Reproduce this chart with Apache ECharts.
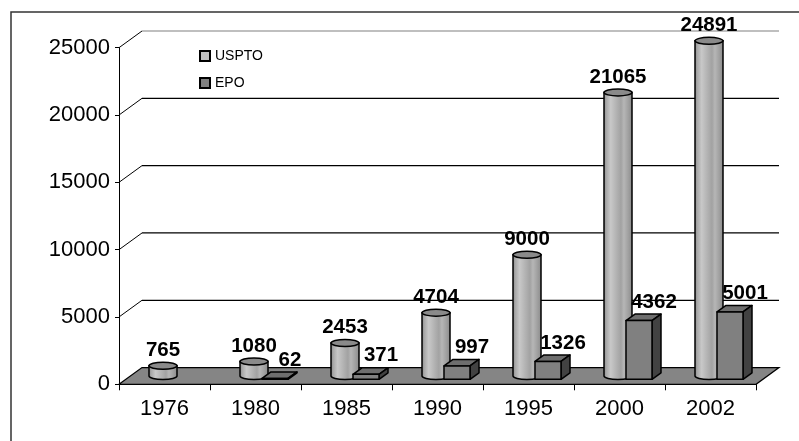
<!DOCTYPE html>
<html><head><meta charset="utf-8">
<script src="https://cdn.jsdelivr.net/npm/echarts@6/dist/echarts.min.js"></script>
<style>html,body{margin:0;padding:0;background:#fff}#c{width:799px;height:441px}</style>
</head><body><div id="c"></div>
<script>
const years = ['1976','1980','1985','1990','1995','2000','2002'];
const uspto = [765, 1080, 2453, 4704, 9000, 21065, 24891];
const epo = [null, 62, 371, 997, 1326, 4362, 5001];
const yTicks = [0, 5000, 10000, 15000, 20000, 25000];
const FONT = '"Liberation Sans", Arial, sans-serif';

const WALL_DX = 23, WALL_DY = 16.7;

const cylGrad = {type:'linear', x:0, y:0, x2:1, y2:0, colorStops:[
  {offset:0, color:'#848484'}, {offset:0.1, color:'#a8a8a8'}, {offset:0.25, color:'#c8c8c8'},
  {offset:0.45, color:'#b2b2b2'}, {offset:0.6, color:'#a2a2a2'}, {offset:0.7, color:'#b6b6b6'},
  {offset:0.85, color:'#a0a0a0'}, {offset:1, color:'#888888'}]};

function renderFrame(params, api){
  const cs = params.coordSys;
  const v = api.value(1);
  const y = api.coord([0, v])[1];
  const xl = cs.x, xr = cs.x + cs.width;
  if (v === 0) {
    return {type:'polygon', shape:{points:[[xl,y],[xl+WALL_DX,y-WALL_DY],[xr+WALL_DX,y-WALL_DY],[xr,y]]},
      style:{fill:'#858585', stroke:'#000', lineWidth:1.2}};
  }
  const col = v === 25000 ? '#808080' : '#000';
  return {type:'group', children:[
    {type:'line', shape:{x1:xl, y1:y, x2:xl+WALL_DX, y2:y-WALL_DY}, style:{stroke:'#000', lineWidth:1}},
    {type:'line', shape:{x1:xl+WALL_DX, y1:y-WALL_DY, x2:xr+WALL_DX, y2:y-WALL_DY}, style:{stroke:col, lineWidth:1.2}}
  ]};
}

function renderCyl(params, api){
  const i = api.value(0), v = api.value(1);
  const p0 = api.coord([i, 0]), p1 = api.coord([i, v]);
  const h = p0[1] - p1[1];
  const cx = p0[0] - 1.5, r = 14, ry = 3.5;
  const by = p0[1] - 8.3, ty = by - h;
  return {type:'group', children:[
    {type:'path', shape:{pathData:'M'+(cx-r)+' '+ty+' L'+(cx-r)+' '+by+' A'+r+' '+ry+' 0 0 0 '+(cx+r)+' '+by+' L'+(cx+r)+' '+ty+' Z'},
      style:{fill:cylGrad, stroke:'#000', lineWidth:1.5}},
    {type:'ellipse', shape:{cx:cx, cy:ty, rx:r, ry:ry}, style:{fill:'#8a8a8a', stroke:'#000', lineWidth:1.5}},
    {type:'text', x:cx, y:ty-ry-1.5, z2:100, style:{text:String(v), fill:'#000', fontSize:20.5, fontWeight:'bold', fontFamily:FONT, align:'center', verticalAlign:'bottom'}}
  ]};
}

function renderBox(params, api){
  const i = api.value(0), v = api.value(1);
  const p0 = api.coord([i, 0]), p1 = api.coord([i, v]);
  const h = p0[1] - p1[1];
  const x1 = p0[0] + 6.5, w = 26, dx = 9, dy = 6.5;
  const yb = p0[1] - 5, yt = yb - h;
  const st = {stroke:'#000', lineWidth:1.5, lineJoin:'round'};
  return {type:'group', children:[
    {type:'polygon', shape:{points:[[x1,yt],[x1+dx,yt-dy],[x1+w+dx,yt-dy],[x1+w,yt]]}, style:Object.assign({fill:'#6e6e6e'}, st)},
    {type:'polygon', shape:{points:[[x1+w,yt],[x1+w+dx,yt-dy],[x1+w+dx,yb-dy],[x1+w,yb]]}, style:Object.assign({fill:'#424242'}, st)},
    {type:'rect', shape:{x:x1, y:yt, width:w, height:h}, style:Object.assign({fill:'#808080'}, st)},
    {type:'text', x:x1+w/2+15, y:yt-dy-1.5, z2:100, style:{text:String(v), fill:'#000', fontSize:20.5, fontWeight:'bold', fontFamily:FONT, align:'center', verticalAlign:'bottom'}}
  ]};
}

const frameData = yTicks.map(v => [0, v]);
const usptoData = uspto.map((v, i) => [i, v]);
const epoData = epo.map((v, i) => [i, v]).filter(d => d[1] != null);

const chart = echarts.init(document.getElementById('c'));
chart.setOption({
  animation: false,
  backgroundColor: '#fff',
  graphic: [{type:'rect', left:8.5, top:9.5, shape:{x:0, y:0, width:900, height:600}, style:{fill:'none', stroke:'#333', lineWidth:1.5}, silent:true, z:-10}],
  grid: {left:119, top:47.7, width:637, height:336.6},
  legend: {orient:'vertical', left:199, top:49, padding:0, itemWidth:10, itemHeight:10, itemGap:13, icon:'rect', selectedMode:false,
    textStyle:{fontSize:14, color:'#000', fontFamily:FONT},
    data:[{name:'USPTO', itemStyle:{color:'#c0c0c0', borderColor:'#000', borderWidth:2}},
          {name:'EPO', itemStyle:{color:'#808080', borderColor:'#000', borderWidth:2}}]},
  xAxis: {type:'category', data:years, boundaryGap:true,
    axisLine:{show:true, lineStyle:{color:'#000', width:1}},
    axisTick:{show:true, length:6, lineStyle:{color:'#000'}},
    axisLabel:{fontSize:22, color:'#000', fontFamily:FONT, margin:14},
    splitLine:{show:false}},
  yAxis: {type:'value', min:0, max:25000, interval:5000,
    axisLine:{show:true, lineStyle:{color:'#000', width:1}},
    axisTick:{show:true, length:4, lineStyle:{color:'#000'}},
    axisLabel:{fontSize:22, color:'#000', fontFamily:FONT, margin:9, formatter: v => String(v)},
    splitLine:{show:false}},
  series: [
    {name:'frame', type:'custom', renderItem:renderFrame, data:frameData, silent:true, z:1},
    {name:'USPTO', type:'custom', renderItem:renderCyl, data:usptoData, itemStyle:{color:'#c0c0c0'}, z:2},
    {name:'EPO', type:'custom', renderItem:renderBox, data:epoData, itemStyle:{color:'#808080'}, z:3}
  ]
});
</script></body></html>
